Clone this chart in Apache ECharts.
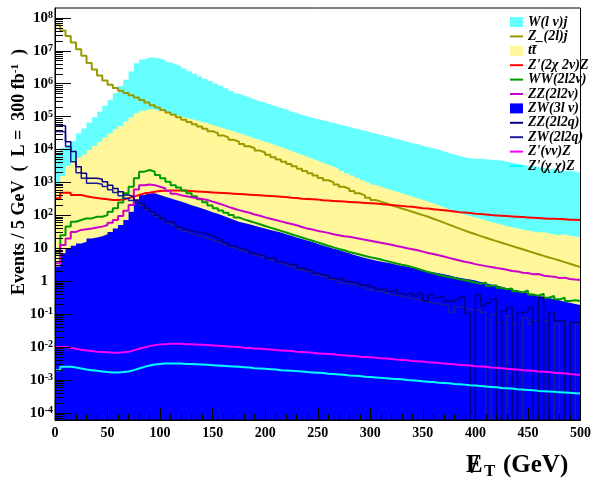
<!DOCTYPE html>
<html><head><meta charset="utf-8">
<script src="https://cdn.jsdelivr.net/npm/echarts@6/dist/echarts.min.js"></script>
<style>html,body{margin:0;padding:0;background:#fff}#c{width:594px;height:483px}</style>
</head><body><div id="c"></div>
<script>
// Histogram binning: 100 bins of 5 GeV from 0 to 500 GeV
const binWidth = 5;
const xMin = 0, xMax = 500;
// Values are log10(Events / 5 GeV); null = empty bin
const wlvj = [3.90,4.05,4.15,4.25,4.49,4.64,4.82,4.98,5.15,5.33,
5.51,5.71,5.93,6.12,6.37,6.62,6.74,6.80,6.80,6.77,
6.72,6.65,6.59,6.53,6.46,6.38,6.30,6.22,6.15,6.08,
6.01,5.94,5.86,5.78,5.70,5.64,5.58,5.52,5.47,5.42,
5.37,5.32,5.27,5.22,5.16,5.11,5.06,5.01,4.97,4.93,
4.89,4.85,4.81,4.77,4.73,4.69,4.65,4.61,4.57,4.53,
4.49,4.45,4.41,4.37,4.33,4.28,4.24,4.20,4.16,4.12,
4.08,4.04,4.00,3.95,3.90,3.85,3.81,3.77,3.74,3.72,
3.72,3.71,3.69,3.68,3.66,3.64,3.60,3.57,3.54,3.51,
3.49,3.47,3.44,3.40,3.42,3.36,3.34,3.37,3.33,3.30];
const z2lj = [7.78,7.62,7.45,7.25,7.05,6.85,6.63,6.43,6.25,6.10,
5.97,5.87,5.79,5.72,5.65,5.58,5.51,5.43,5.35,5.28,
5.20,5.13,5.06,4.98,4.91,4.84,4.77,4.70,4.63,4.56,
4.50,4.43,4.37,4.30,4.24,4.17,4.10,4.04,3.97,3.91,
3.84,3.77,3.70,3.63,3.56,3.49,3.42,3.35,3.28,3.21,
3.14,3.07,3.01,2.94,2.87,2.81,2.74,2.67,2.61,2.54,
2.47,2.42,2.37,2.31,2.26,2.21,2.16,2.11,2.06,2.01,
1.96,1.90,1.84,1.78,1.72,1.66,1.60,1.54,1.48,1.43,
1.37,1.32,1.27,1.22,1.17,1.12,1.07,1.02,0.97,0.92,
0.87,0.82,0.77,0.72,0.68,0.63,0.58,0.53,0.48,0.43];
const ttbar = [2.90,3.20,3.50,3.65,3.75,3.84,3.99,4.11,4.24,4.37,
4.49,4.62,4.72,4.85,4.98,5.10,5.18,5.23,5.22,5.18,
5.14,5.10,5.06,5.01,4.97,4.93,4.88,4.84,4.80,4.75,
4.70,4.65,4.60,4.55,4.50,4.45,4.40,4.34,4.29,4.24,
4.19,4.13,4.08,4.02,3.96,3.90,3.84,3.78,3.72,3.66,
3.60,3.54,3.48,3.42,3.35,3.28,3.21,3.14,3.07,3.00,
2.93,2.87,2.82,2.77,2.72,2.67,2.62,2.57,2.52,2.47,
2.42,2.37,2.31,2.25,2.19,2.13,2.07,2.02,1.98,1.94,
1.90,1.85,1.80,1.76,1.72,1.67,1.64,1.60,1.57,1.54,
1.51,1.48,1.50,1.45,1.42,1.40,1.43,1.38,1.36,1.34];
const zp2x2vZ = [2.52,2.69,2.69,2.62,2.62,2.58,2.55,2.53,2.51,2.49,
2.47,2.47,2.48,2.52,2.57,2.62,2.67,2.69,2.72,2.74,
2.75,2.76,2.76,2.76,2.75,2.74,2.73,2.72,2.71,2.70,
2.69,2.68,2.67,2.66,2.65,2.64,2.63,2.62,2.61,2.60,
2.59,2.58,2.57,2.56,2.54,2.53,2.51,2.50,2.49,2.48,
2.46,2.45,2.44,2.43,2.42,2.41,2.40,2.39,2.38,2.37,
2.36,2.35,2.33,2.32,2.30,2.29,2.27,2.26,2.24,2.22,
2.21,2.19,2.17,2.16,2.14,2.12,2.10,2.09,2.07,2.05,
2.04,2.03,2.01,2.00,1.99,1.98,1.97,1.96,1.95,1.94,
1.93,1.92,1.91,1.90,1.90,1.89,1.88,1.87,1.87,1.86];
const ww2l2v = [0.85,1.40,1.66,1.81,1.86,1.91,1.91,1.96,1.96,2.01,
2.11,2.22,2.39,2.67,2.87,3.13,3.33,3.38,3.33,3.23,
3.13,3.02,2.92,2.85,2.76,2.67,2.58,2.49,2.40,2.30,
2.22,2.15,2.08,2.01,1.94,1.88,1.83,1.78,1.73,1.68,
1.63,1.58,1.53,1.48,1.43,1.38,1.33,1.28,1.23,1.18,
1.13,1.08,1.03,0.98,0.94,0.89,0.85,0.81,0.77,0.73,
0.70,0.66,0.62,0.58,0.54,0.50,0.47,0.43,0.38,0.33,
0.28,0.24,0.19,0.16,0.13,0.10,0.06,0.03,0.00,-0.04,
-0.08,-0.04,-0.14,-0.12,-0.20,-0.24,-0.22,-0.30,-0.34,-0.28,
-0.40,-0.44,-0.38,-0.50,-0.45,-0.55,-0.50,-0.60,-0.58,-0.60];
const zz2l2v = [0.55,1.10,1.30,1.50,1.56,1.58,1.60,1.63,1.66,1.71,
1.78,1.86,1.98,2.14,2.32,2.79,2.92,2.94,2.92,2.87,
2.82,2.75,2.66,2.61,2.58,2.55,2.52,2.50,2.47,2.42,
2.37,2.32,2.26,2.21,2.16,2.12,2.08,2.03,1.99,1.94,
1.90,1.86,1.82,1.78,1.74,1.70,1.65,1.60,1.57,1.53,
1.50,1.47,1.43,1.40,1.37,1.35,1.32,1.29,1.26,1.23,
1.20,1.17,1.14,1.11,1.07,1.04,1.00,0.97,0.94,0.90,
0.86,0.83,0.79,0.75,0.71,0.67,0.63,0.59,0.56,0.52,
0.49,0.46,0.43,0.40,0.38,0.35,0.31,0.30,0.26,0.25,
0.21,0.22,0.17,0.15,0.14,0.10,0.11,0.07,0.05,0.04];
const zw3lv = [0.45,0.85,1.00,1.08,1.15,1.20,1.30,1.33,1.37,1.43,
1.50,1.60,1.71,1.86,2.11,2.47,2.62,2.67,2.67,2.62,
2.57,2.52,2.47,2.42,2.37,2.31,2.26,2.21,2.16,2.10,
2.05,1.99,1.93,1.87,1.81,1.77,1.73,1.69,1.64,1.60,
1.56,1.52,1.48,1.43,1.38,1.33,1.28,1.24,1.19,1.14,
1.09,1.04,0.99,0.95,0.90,0.85,0.80,0.75,0.71,0.67,
0.63,0.60,0.57,0.54,0.50,0.47,0.44,0.41,0.38,0.34,
0.30,0.27,0.24,0.21,0.18,0.14,0.11,0.08,0.05,0.02,
-0.02,-0.06,-0.10,-0.13,-0.17,-0.21,-0.25,-0.28,-0.32,-0.36,
-0.40,-0.44,-0.47,-0.51,-0.55,-0.58,-0.62,-0.65,-0.69,-0.72];
const zz2l2q = [4.75,4.72,4.24,3.94,3.48,3.28,3.13,3.13,3.10,3.02,
2.92,2.82,2.72,2.62,2.57,2.47,2.37,2.22,2.11,2.01,
1.91,1.81,1.76,1.64,1.58,1.53,1.50,1.47,1.44,1.38,
1.33,1.25,1.17,1.08,1.02,0.98,0.92,0.85,0.80,0.78,
0.70,0.72,0.60,0.55,0.50,0.52,0.40,0.36,0.32,0.25,
0.20,0.18,0.10,0.05,0.10,0.00,-0.05,-0.02,-0.12,-0.10,
-0.18,-0.25,-0.20,-0.30,-0.25,-0.37,-0.40,-0.35,-0.45,-0.37,
-0.60,-0.40,-0.50,-0.45,-0.60,-0.62,-0.55,-0.48,-0.98,null,
-0.40,-0.75,-0.65,-0.55,null,-0.90,-0.80,null,-0.95,-0.95,
-0.80,null,-0.50,null,-0.95,-1.20,-1.20,null,-1.25,-1.25];
const zw2l2q = [4.55,4.54,4.09,3.63,3.30,3.13,2.98,2.98,2.95,2.88,
2.78,2.70,2.60,2.52,2.45,2.40,2.30,2.18,2.05,1.97,
1.88,1.78,1.70,1.60,1.52,1.46,1.40,1.36,1.30,1.26,
1.20,1.14,1.08,1.02,0.96,0.92,0.86,0.80,0.76,0.70,
0.66,0.60,0.56,0.50,0.44,0.42,0.35,0.30,0.28,0.20,
0.15,0.12,0.05,0.02,-0.05,-0.08,-0.10,-0.15,-0.18,-0.25,
-0.28,-0.30,-0.35,-0.40,-0.42,-0.45,-0.50,-0.52,-0.55,-0.60,
-0.62,-0.65,-0.68,-0.70,-0.75,-0.95,-0.78,-0.80,-0.85,-0.90,
-0.85,-0.95,null,-1.00,-1.25,null,-1.05,-1.30,null,-1.10,
-1.30,-1.20,null,-1.20,null,-1.30,null,-1.30,null,-1.30];
const zpvvZ = [-2.00,-2.00,-2.02,-2.05,-2.08,-2.10,-2.12,-2.14,-2.15,-2.16,
-2.17,-2.17,-2.16,-2.14,-2.10,-2.05,-2.01,-1.97,-1.94,-1.92,
-1.91,-1.90,-1.90,-1.90,-1.91,-1.91,-1.92,-1.93,-1.94,-1.95,
-1.96,-1.97,-1.98,-1.99,-2.00,-2.02,-2.03,-2.04,-2.05,-2.06,
-2.07,-2.09,-2.10,-2.11,-2.12,-2.14,-2.15,-2.16,-2.17,-2.19,
-2.20,-2.21,-2.22,-2.24,-2.25,-2.26,-2.27,-2.29,-2.30,-2.31,
-2.32,-2.34,-2.35,-2.36,-2.38,-2.39,-2.40,-2.42,-2.43,-2.44,
-2.46,-2.47,-2.48,-2.50,-2.51,-2.52,-2.54,-2.55,-2.56,-2.58,
-2.59,-2.60,-2.62,-2.63,-2.64,-2.66,-2.67,-2.68,-2.70,-2.71,
-2.72,-2.74,-2.75,-2.76,-2.78,-2.79,-2.80,-2.82,-2.83,-2.85];
const zpxxZ = [-2.70,-2.60,-2.60,-2.62,-2.65,-2.68,-2.70,-2.72,-2.74,-2.76,
-2.77,-2.77,-2.76,-2.74,-2.70,-2.65,-2.60,-2.56,-2.53,-2.51,
-2.50,-2.50,-2.50,-2.50,-2.51,-2.51,-2.52,-2.53,-2.54,-2.55,
-2.56,-2.57,-2.58,-2.59,-2.60,-2.61,-2.62,-2.64,-2.65,-2.66,
-2.67,-2.68,-2.70,-2.71,-2.72,-2.73,-2.74,-2.76,-2.77,-2.78,
-2.79,-2.81,-2.82,-2.83,-2.84,-2.86,-2.87,-2.88,-2.90,-2.91,
-2.92,-2.93,-2.95,-2.96,-2.97,-2.98,-3.00,-3.01,-3.02,-3.04,
-3.05,-3.06,-3.08,-3.09,-3.10,-3.12,-3.13,-3.14,-3.16,-3.17,
-3.18,-3.20,-3.21,-3.22,-3.24,-3.25,-3.26,-3.28,-3.29,-3.30,
-3.31,-3.33,-3.34,-3.35,-3.36,-3.37,-3.38,-3.39,-3.40,-3.41];

const legendLabels = ["W(l ν)j","Z_(2l)j","tt̄","Z'(2χ 2ν)Z","WW(2l2ν)","ZZ(2l2ν)","ZW(3l ν)","ZZ(2l2q)","ZW(2l2q)","Z'(νν)Z","Z'(χ χ)Z"];
const xTickLabels = ["0","50","100","150","200","250","300","350","400","450","500"];
const yTickExponents = [-4,-3,-2,-1,0,1,2,3,4,5,6,7,8];
const yMin = 6.1e-5, yMax = 2e8;

const FONT = 'Liberation Serif';
const EMPTY = 1e-9; // empty bin -> below the axis floor

const yMajor = yTickExponents.map(e => Math.pow(10, e));
const yMinor = [];
yTickExponents.concat([-5]).forEach(e => { for (let k = 2; k <= 9; k++) { const v = k * Math.pow(10, e); if (v > yMin && v < yMax) yMinor.push(v); } });

function histPoints(logs) {
  const pts = logs.map((v, i) => [xMin + i * binWidth, v === null ? EMPTY : Math.pow(10, v)]);
  pts.push([xMax, pts[pts.length - 1][1]]);
  return pts;
}
function fillSeries(name, logs, color) {
  return {name, type:'line', step:'end', symbol:'none', showSymbol:false, data: histPoints(logs),
    lineStyle:{width:0, color}, itemStyle:{color}, areaStyle:{color, opacity:1, origin:'start'},
    clip:true, animation:false, silent:true};
}
function lineSeries(name, logs, color, w) {
  return {name, type:'line', step:'end', symbol:'none', showSymbol:false, data: histPoints(logs),
    lineStyle:{width:w || 2, color}, itemStyle:{color}, clip:true, animation:false, silent:true};
}
const colors = {
  wlvj:'#66ffff', z2lj:'#999900', tt:'#fff799', red:'#ff0000', ww:'#009900', zz2l2v:'#cc00cc',
  zw3lv:'#0000ff', zz2l2q:'#000080', zw2l2q:'#1c1c96', zpvv:'#ff00ff', zpxx:'#00ffff'
};
const series = [
  fillSeries(legendLabels[0], wlvj, colors.wlvj),
  fillSeries(legendLabels[2], ttbar, colors.tt),
  fillSeries(legendLabels[6], zw3lv, colors.zw3lv),
  lineSeries(legendLabels[1], z2lj, colors.z2lj),
  lineSeries(legendLabels[3], zp2x2vZ, colors.red),
  lineSeries(legendLabels[4], ww2l2v, colors.ww),
  lineSeries(legendLabels[5], zz2l2v, colors.zz2l2v),
  lineSeries(legendLabels[8], zw2l2q, colors.zw2l2q, 1.5),
  lineSeries(legendLabels[7], zz2l2q, colors.zz2l2q, 1.5),
  lineSeries(legendLabels[9], zpvvZ, colors.zpvv),
  lineSeries(legendLabels[10], zpxxZ, colors.zpxx)
];

const lineIcon = 'path://M0,0M0,10M0,4H13V6H0Z';
const fillIdx = [0, 2, 6];
const legendData = legendLabels.map((n, i) => ({name:n, icon: fillIdx.includes(i) ? 'rect' : lineIcon}));

function yLabel(value) {
  const l = Math.log10(value), e = Math.round(l);
  if (Math.abs(l - e) > 1e-3) return '';
  if (e === 0) return '{p|1}';
  if (e === 1) return '{p|10}';
  return '{b|10}{s|' + e + '}';
}

const chart = echarts.init(document.getElementById('c'), null, {renderer:'canvas'});
chart.setOption({
  animation:false,
  backgroundColor:'#fff',
  grid:{left:55, right:12, top:8, bottom:63, show:true, borderColor:'#000', borderWidth:1, z:30, backgroundColor:'transparent'},
  legend:{orient:'vertical', left:505, top:10, itemWidth:13, itemHeight:10, itemGap:0.4, selectedMode:false,
    textStyle:{fontFamily:FONT, fontWeight:'bold', fontStyle:'italic', fontSize:14, lineHeight:13, color:'#000'},
    data: legendData, z: 40},
  xAxis:{type:'value', min:xMin, max:xMax, interval:50, z:25,
    axisLine:{show:true, onZero:false, lineStyle:{color:'#000', width:1}},
    axisTick:{show:true, inside:true, length:12, lineStyle:{color:'#000'}},
    minorTick:{show:true, splitNumber:5, length:6, lineStyle:{color:'#000'}},
    splitLine:{show:false},
    axisLabel:{color:'#000', fontFamily:FONT, fontWeight:'bold', fontSize:14, margin:6,
      formatter:(v) => xTickLabels[Math.round(v / 50)]}},
  yAxis:[
    {type:'log', logBase:10, min:yMin, max:yMax, z:25,
      axisLine:{show:true, lineStyle:{color:'#000', width:1}},
      axisTick:{show:true, inside:true, length:16, customValues:yMajor, lineStyle:{color:'#000'}},
      splitLine:{show:false},
      axisLabel:{color:'#000', margin:2, customValues:yMajor, formatter:yLabel, showMinLabel:true, showMaxLabel:true,
        rich:{
          b:{fontFamily:FONT, fontWeight:'bold', fontSize:15, lineHeight:15, color:'#000'},
          s:{fontFamily:FONT, fontWeight:'bold', fontSize:10, lineHeight:10, verticalAlign:'top', color:'#000'},
          p:{fontFamily:FONT, fontWeight:'bold', fontSize:15, lineHeight:15, color:'#000', padding:[0,5,0,0]}
        }}},
    {type:'log', logBase:10, min:yMin, max:yMax, position:'left', offset:0, z:25,
      axisLine:{show:false}, axisLabel:{show:false}, splitLine:{show:false},
      axisTick:{show:true, inside:true, length:8, customValues:yMinor, lineStyle:{color:'#000'}}}
  ],
  series: series,
  graphic:[
    {type:'text', x:19, y:172, rotation:Math.PI/2, z:50,
      style:{text:'{a|Events / 5 GeV  (  L =  300 fb}{s|-1}{a|  )}', align:'center', verticalAlign:'middle',
        rich:{a:{fontFamily:FONT, fontWeight:'bold', fontSize:18, lineHeight:19, fill:'#000'},
              s:{fontFamily:FONT, fontWeight:'bold', fontSize:11, lineHeight:11, verticalAlign:'top', fill:'#000'}}}},
    {type:'text', x:466, y:466, z:50, style:{text:'E', fontFamily:FONT, fontWeight:'bold', fontSize:25, fill:'#000', verticalAlign:'middle'}},
    {type:'text', x:471, y:466, z:50, style:{text:'/', fontFamily:FONT, fontWeight:'bold', fontSize:27, fill:'#000', verticalAlign:'middle'}},
    {type:'text', x:484, y:472, z:50, style:{text:'T', fontFamily:FONT, fontWeight:'bold', fontSize:17, fill:'#000', verticalAlign:'middle'}},
    {type:'text', x:503, y:466, z:50, style:{text:'(GeV)', fontFamily:FONT, fontWeight:'bold', fontSize:25, fill:'#000', verticalAlign:'middle'}}
  ]
});
</script></body></html>
